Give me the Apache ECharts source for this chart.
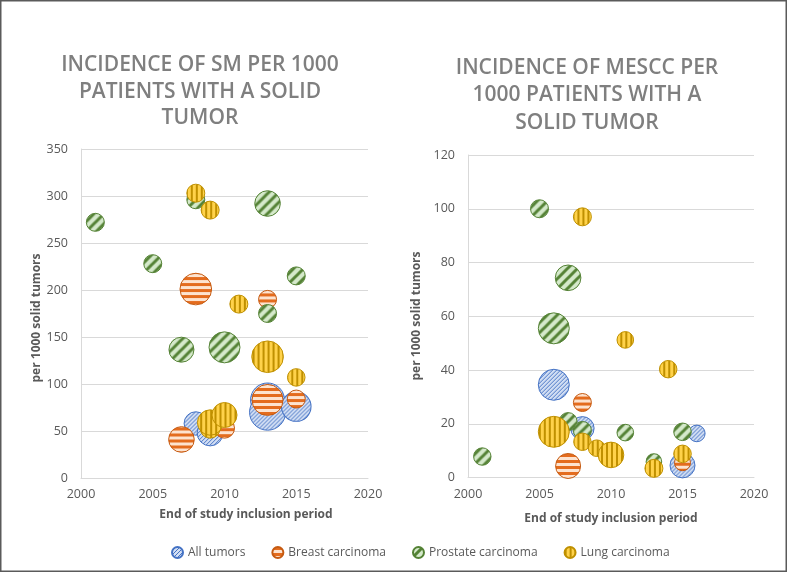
<!DOCTYPE html>
<html><head><meta charset="utf-8">
<script src="https://cdn.jsdelivr.net/npm/echarts@6/dist/echarts.min.js"></script>
<style>html,body{margin:0;padding:0;background:#fff}#c{width:787px;height:572px}</style>
</head><body><div id="c"></div>
<script>
// Data: [end of study inclusion year, incidence per 1000, bubble size (relative)]
const seriesNames = ['All tumors', 'Breast carcinoma', 'Prostate carcinoma', 'Lung carcinoma'];
const xTicks = [2000, 2005, 2010, 2015, 2020];
const smTicks = [0, 50, 100, 150, 200, 250, 300, 350];
const mesccTicks = [0, 20, 40, 60, 80, 100, 120];

const smAll = [[2008,58,137],[2009,48,169],[2013,83,289],[2013,70,324],[2015,76,219]];
const smBreast = [[2007,41,164],[2008,201,250],[2010,53,100],[2013,83,240],[2013,190,81],[2015,84,81]];
const smProstate = [[2001,272,81],[2005,228,81],[2007,136.5,156],[2008,296,81],[2010,139,240],[2013,292,164],[2013,175,81],[2015,215,81]];
const smLung = [[2008,303,81],[2009,285,81],[2009,53,100],[2009,59,161],[2010,67,156],[2011,185,81],[2013,129,250],[2015,107,77]];

const mesccAll = [[2006,34.5,240],[2008,18.3,137],[2015,4.5,156],[2016,16.4,69]];
const mesccBreast = [[2007,4.3,156],[2008,27.9,81],[2015,5.5,64]];
const mesccProstate = [[2001,7.8,76],[2005,100,81],[2006,55.5,240],[2007,74.3,164],[2007,20.8,81],[2008,17.5,81],[2011,16.7,69],[2013,5.9,61],[2015,17,77]];
const mesccLung = [[2006,17,240],[2008,97,81],[2008,13.3,76],[2009,10.9,69],[2010,8.4,164],[2011,51.2,69],[2013,3.4,81],[2014,40.3,76],[2015,8.8,77]];

function makeCanvas(kind){
  const c = document.createElement('canvas');
  let ctx;
  if (kind === 0) {
    const p = 4; c.width = p; c.height = p; ctx = c.getContext('2d');
    ctx.fillStyle = '#d3dff4'; ctx.fillRect(0,0,p,p);
    ctx.strokeStyle = '#4472c4'; ctx.lineWidth = 1;
    ctx.beginPath();
    ctx.moveTo(0,p); ctx.lineTo(p,0);
    ctx.moveTo(-1,1); ctx.lineTo(1,-1);
    ctx.moveTo(p-1,p+1); ctx.lineTo(p+1,p-1);
    ctx.stroke();
  } else if (kind === 2) {
    const p = 10; c.width = p; c.height = p; ctx = c.getContext('2d');
    ctx.fillStyle = '#d5e9cb'; ctx.fillRect(0,0,p,p);
    ctx.strokeStyle = '#548235'; ctx.lineWidth = 3;
    ctx.beginPath();
    ctx.moveTo(0,p); ctx.lineTo(p,0);
    ctx.moveTo(-2,2); ctx.lineTo(2,-2);
    ctx.moveTo(p-2,p+2); ctx.lineTo(p+2,p-2);
    ctx.stroke();
  } else if (kind === 1) {
    c.width = 4; c.height = 6; ctx = c.getContext('2d');
    ctx.fillStyle = '#fde3cf'; ctx.fillRect(0,0,4,6);
    ctx.fillStyle = '#e46c1e'; ctx.fillRect(0,0,4,3);
  } else {
    c.width = 5; c.height = 4; ctx = c.getContext('2d');
    ctx.fillStyle = '#ffd24a'; ctx.fillRect(0,0,5,4);
    ctx.fillStyle = '#c09000'; ctx.fillRect(0,0,2,4);
  }
  return c;
}
const canvases = [0,1,2,3].map(makeCanvas);
const borderColors = ['#4472c4', '#c55a11', '#548235', '#bf9000'];
function pattern(i, scale){
  return {image: canvases[i], repeat: 'repeat', scaleX: scale, scaleY: scale};
}

const smData = [smAll, smBreast, smProstate, smLung];
const mesccData = [mesccAll, mesccBreast, mesccProstate, mesccLung];

const tickFont = {color: '#595959', fontSize: 12.5, fontFamily: 'Open Sans'};
function xAxis(gi){
  return {type: 'value', gridIndex: gi, min: xTicks[0], max: xTicks[xTicks.length-1], interval: xTicks[1]-xTicks[0],
    axisLabel: Object.assign({formatter: v => String(v), margin: 10}, tickFont),
    axisLine: {show: true, lineStyle: {color: '#d9d9d9'}}, axisTick: {show: false}, splitLine: {show: false}};
}
function yAxis(gi, ticks){
  return {type: 'value', gridIndex: gi, min: ticks[0], max: ticks[ticks.length-1], interval: ticks[1]-ticks[0],
    axisLabel: Object.assign({margin: 13}, tickFont),
    axisLine: {show: true, lineStyle: {color: '#d9d9d9'}}, axisTick: {show: false},
    splitLine: {show: true, lineStyle: {color: '#d9d9d9'}}};
}

const series = [];
[smData, mesccData].forEach((set, gi) => {
  set.forEach((d, i) => {
    series.push({
      type: 'scatter', name: seriesNames[i], xAxisIndex: gi, yAxisIndex: gi,
      data: d.map(v => {
        const r = Math.sqrt(v[2]);
        return {value: v, itemStyle: {color: pattern(i, 1 / r)}};
      }),
      symbolSize: v => 2*Math.sqrt(v[2]),
      itemStyle: {color: pattern(i, 1), borderColor: borderColors[i], borderWidth: 1, opacity: 1},
      emphasis: {disabled: true}, z: 2 + i
    });
  });
});

const titleFont = '600 21px "Open Sans"';
const axisNameFont = 'bold 12px "Open Sans"';
const chart = echarts.init(document.getElementById('c'), null, {renderer: 'canvas'});
chart.setOption({
  animation: false,
  grid: [
    {left: 81, right: 419, top: 149, bottom: 94},
    {left: 468, right: 33, top: 155, bottom: 94.5}
  ],
  xAxis: [xAxis(0), xAxis(1)],
  yAxis: [yAxis(0, smTicks), yAxis(1, mesccTicks)],
  legend: {
    data: seriesNames, left: 166, top: 541, itemWidth: 11, itemHeight: 11, itemGap: 26, icon: 'circle',
    textStyle: {color: '#595959', fontSize: 12, fontFamily: 'Open Sans'}
  },
  graphic: [
    {type: 'rect', shape: {x: 0.75, y: 0.75, width: 785.5, height: 570.5}, style: {fill: 'none', stroke: '#5a5a5a', lineWidth: 1.5}, silent: true},
    {type: 'text', x: 200, y: 52, style: {text: 'INCIDENCE OF SM PER 1000\nPATIENTS WITH A SOLID\nTUMOR', font: titleFont, fill: '#7f7f7f', textAlign: 'center', lineHeight: 26.5}},
    {type: 'text', x: 587, y: 54, style: {text: 'INCIDENCE OF MESCC PER\n1000 PATIENTS WITH A\nSOLID TUMOR', font: titleFont, fill: '#7f7f7f', textAlign: 'center', lineHeight: 27.5}},
    {type: 'text', x: 246, y: 509, style: {text: 'End of study inclusion period', font: axisNameFont, fill: '#595959', textAlign: 'center'}},
    {type: 'text', x: 611, y: 513, style: {text: 'End of study inclusion period', font: axisNameFont, fill: '#595959', textAlign: 'center'}},
    {type: 'text', x: 31, y: 318, rotation: Math.PI/2, style: {text: 'per 1000 solid tumors', font: axisNameFont, fill: '#595959', textAlign: 'center'}},
    {type: 'text', x: 411, y: 316, rotation: Math.PI/2, style: {text: 'per 1000 solid tumors', font: axisNameFont, fill: '#595959', textAlign: 'center'}}
  ],
  series: series
});
</script></body></html>
